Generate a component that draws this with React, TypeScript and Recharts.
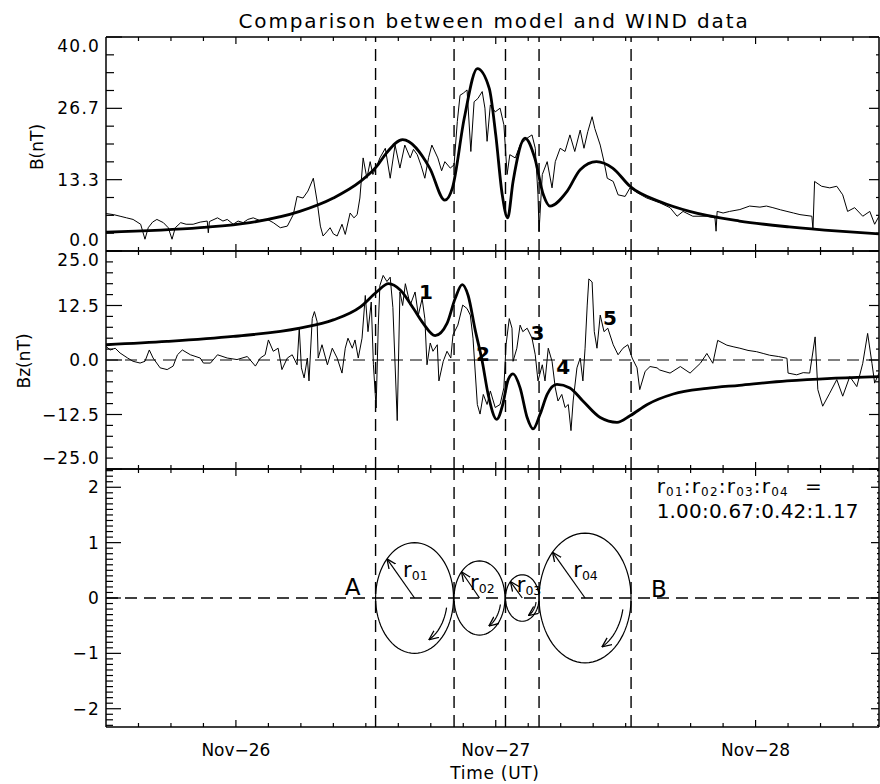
import React from "react";
import { LineChart, Line, XAxis, YAxis, ReferenceLine, ReferenceDot } from "recharts";

const FONT = "DejaVu Sans";

// time in hours after Nov-26 00:00 UT
const timeDomain = [-12, 59.4];
const hourTicks = [-9, -6, -3, 0, 3, 6, 9, 12, 15, 18, 21, 24, 27, 30, 33, 36, 39, 42, 45, 48, 51, 54, 57];
const dayTicks = [0, 24, 48];
const dayLabels = ["Nov−26", "Nov−27", "Nov−28"];

// boundaries of the rope sections (dashed lines)
const boundaryHours = [12.9, 20.15, 24.9, 28.0, 36.5];

// |B| observed by WIND, [hour, nT]
const bObserved = [
  [-12.0, 7.0], [-11.3, 6.8], [-10.7, 6.5], [-10.1, 6.2], [-9.5, 5.9], [-8.8, 5.0], [-8.4, 2.2],
  [-8.1, 4.35], [-7.7, 5.4], [-7.3, 5.9], [-6.7, 5.3], [-6.25, 4.35], [-5.9, 2.2], [-5.6, 4.35],
  [-5.1, 5.3], [-4.6, 5.0], [-3.95, 5.0], [-3.3, 5.4], [-2.65, 5.6], [-2.55, 3.4], [-2.45, 5.5],
  [-1.7, 6.2], [-1.2, 5.6], [-0.8, 5.9], [-0.25, 5.0], [0.2, 5.6], [0.67, 5.3], [1.1, 5.9],
  [1.6, 6.2], [2.2, 5.7], [2.9, 5.9], [3.45, 5.3], [4.1, 4.35], [4.75, 4.65], [5.3, 6.8],
  [5.65, 10.2], [6.2, 9.9], [6.65, 11.2], [7.15, 13.6], [7.5, 9.3], [7.8, 4.65], [8.05, 2.8],
  [8.4, 3.6], [8.7, 4.35], [9.0, 3.2], [9.35, 2.8], [9.8, 5.0], [10.1, 3.1], [10.55, 7.1],
  [10.9, 6.2], [11.2, 6.8], [11.45, 9.9], [11.75, 17.4], [12.1, 13.6], [12.4, 16.7], [12.65, 14.3],
  [13.05, 16.1], [13.3, 17.4], [13.8, 19.2], [14.25, 13.6], [14.7, 19.8], [15.15, 15.5], [15.6, 19.8],
  [16.1, 17.4], [16.4, 19.0], [16.75, 18.0], [17.1, 16.0], [17.45, 13.6], [17.8, 17.5], [18.1, 19.8],
  [18.65, 17.4], [19.0, 15.0], [19.3, 16.7], [19.8, 15.5], [20.15, 16.1], [20.45, 24.2], [20.7, 29.1],
  [21.0, 29.5], [21.35, 30.1], [21.7, 18.6], [22.0, 27.9], [22.35, 28.5], [22.75, 29.8], [23.0, 26.7],
  [23.2, 20.5], [23.5, 27.3], [23.95, 26.0], [24.4, 26.7], [24.75, 23.6], [25.05, 14.3], [25.3, 18.0],
  [25.8, 17.4], [26.25, 19.8], [26.9, 21.1], [27.35, 21.7], [27.65, 19.2], [27.9, 10.5], [28.0, 3.7],
  [28.3, 14.3], [28.75, 16.7], [29.2, 11.8], [29.5, 16.7], [29.95, 19.2], [30.4, 18.6], [30.85, 21.7],
  [31.3, 18.6], [31.8, 22.6], [32.15, 19.2], [32.5, 22.3], [32.9, 25.1], [33.15, 22.9], [33.65, 19.8],
  [34.0, 16.7], [34.3, 13.6], [34.85, 13.0], [35.3, 10.5], [35.95, 10.2], [36.4, 11.8], [37.05, 10.9],
  [37.95, 9.9], [39.15, 9.0], [40.1, 8.1], [40.75, 6.5], [41.3, 7.4], [42.2, 6.5], [43.5, 6.5],
  [44.25, 6.2], [44.35, 3.7], [44.45, 7.4], [45.0, 7.1], [45.6, 7.4], [46.55, 7.75], [47.45, 8.4],
  [48.4, 8.2], [49.0, 8.4], [49.6, 8.1], [50.3, 7.7], [50.9, 7.4], [51.5, 7.1], [52.1, 6.8],
  [53.2, 6.5], [53.3, 4.0], [53.45, 13.0], [54.1, 12.1], [54.85, 11.8], [55.5, 12.1], [56.05, 10.5],
  [56.5, 7.4], [57.15, 8.1], [57.9, 6.5], [58.55, 7.4], [59.0, 5.0], [59.4, 6.5],
];

// |B| from the model, [hour, nT]
const bModel = [
  [-12.0, 3.5], [-3.3, 4.35], [1.3, 5.3], [5.9, 7.4], [9.0, 9.9], [11.5, 13.0], [13.0, 15.8],
  [13.9, 18.3], [15.4, 20.8], [17.9, 15.5], [19.3, 9.5], [20.0, 11.8], [21.1, 24.9], [22.3, 34.1],
  [23.4, 30.4], [24.0, 21.7], [24.6, 10.5], [25.1, 6.2], [25.6, 13.0], [26.7, 21.1], [27.6, 17.4],
  [28.4, 10.5], [29.0, 8.4], [30.6, 11.2], [31.8, 15.2], [33.3, 16.7], [34.8, 15.5], [36.4, 12.1],
  [39.2, 9.2], [41.9, 7.4], [46.5, 5.6], [51.1, 4.5], [55.7, 3.7], [59.4, 3.2],
];

// Bz observed, [hour, nT]
const bzObserved = [
  [-12.0, 3.1], [-11.6, 2.3], [-11.15, 2.7], [-10.7, 1.6], [-10.0, 0.45], [-9.5, -0.3], [-8.85, -0.7],
  [-8.4, -0.3], [-8.0, 2.3], [-7.65, 0.45], [-7.0, -1.8], [-6.35, -2.2], [-5.8, -1.4], [-5.4, 1.2],
  [-4.95, 2.3], [-4.2, 1.2], [-3.3, 0.45], [-3.0, -0.7], [-2.35, -0.7], [-1.7, 1.2], [-0.8, 0.45],
  [0.1, 0.1], [1.05, 0.8], [1.8, -1.4], [2.25, 0.45], [2.7, 1.2], [3.0, 4.6], [3.45, 2.0],
  [3.9, 2.7], [4.25, -2.2], [4.75, 0.45], [5.2, 1.2], [5.65, -1.1], [5.85, 7.3], [6.05, -1.8],
  [6.3, -4.1], [6.6, 0.45], [6.75, -4.8], [7.05, 9.5], [7.25, 11.1], [7.5, 8.8], [7.6, 0.45],
  [7.95, 3.5], [8.45, -1.1], [8.9, 2.7], [9.35, 0.45], [9.8, -3.0], [10.1, 2.7], [10.35, 5.0],
  [10.75, 2.7], [11.0, 4.6], [11.3, 0.45], [11.65, 5.0], [11.95, 14.8], [12.2, 6.5], [12.5, 13.3],
  [12.7, -1.1], [12.95, -11.0], [13.15, 8.0], [13.3, 17.1], [13.6, 19.4], [13.95, 18.0], [14.25, 19.0],
  [14.5, 12.0], [14.9, -13.9], [15.15, 15.6], [15.4, 12.5], [15.65, 17.5], [16.1, 12.6], [16.55, 15.6],
  [16.85, 10.3], [17.2, 14.1], [17.45, 9.5], [17.65, -1.1], [17.95, 3.9], [18.2, 2.0], [18.6, 3.5],
  [18.75, -4.8], [19.15, -0.3], [19.5, 2.0], [19.85, 0.45], [20.05, 5.75], [20.5, 8.0], [20.95, 12.6],
  [21.35, 11.8], [21.65, 10.3], [21.9, 5.0], [22.3, -10.2], [22.55, -12.4], [22.85, -7.9], [23.2, -10.2],
  [23.5, -7.1], [23.95, -10.9], [24.4, -10.2], [24.75, -6.4], [24.95, 3.5], [25.25, 9.5], [25.5, 7.3],
  [25.6, -0.3], [25.95, 2.7], [26.25, 8.0], [26.5, 6.5], [26.9, 7.3], [27.35, 5.0], [27.65, 1.2],
  [27.9, -4.8], [28.3, -1.1], [28.55, -4.8], [28.85, 2.7], [29.2, -0.3], [29.5, -6.4], [29.75, -9.4],
  [30.1, -7.9], [30.4, -10.9], [30.7, -10.2], [30.95, -16.2], [31.15, -9.4], [31.5, -1.8], [31.8, 0.45],
  [32.05, -4.8], [32.25, 2.7], [32.45, 12.6], [32.6, 18.6], [32.9, 17.9], [33.1, 6.5], [33.35, 2.7],
  [33.65, 10.3], [34.0, 6.5], [34.35, 7.3], [34.85, 3.5], [35.3, 1.2], [35.75, 2.7], [36.2, 3.5],
  [36.6, 0.45], [37.05, -1.8], [37.3, -6.8], [37.8, -2.6], [38.25, -1.5], [38.9, -1.8], [39.15, -2.3],
  [40.1, -3.0], [41.05, -1.5], [41.95, -3.0], [42.9, -0.75], [43.5, 1.5], [44.05, -0.75], [44.5, 4.5],
  [45.35, 3.4], [46.0, 3.0], [46.55, 2.7], [47.3, 2.2], [48.1, 1.9], [48.7, 1.5], [49.3, 1.1],
  [50.1, 0.8], [50.9, 0.4], [51.0, -3.0], [51.8, -3.4], [52.4, -2.9], [53.0, -3.0], [53.5, 5.3],
  [53.75, -6.8], [54.2, -10.6], [54.85, -7.6], [55.5, -4.5], [56.05, -8.3], [56.7, -3.8], [57.35, -6.1],
  [57.9, -0.75], [58.35, 6.1], [58.75, -0.75], [59.0, -5.3], [59.4, -3.0],
];

// Bz from the model, [hour, nT]
const bzModel = [
  [-12.0, 3.5], [-6.35, 4.25], [-0.25, 5.4], [5.9, 7.3], [9.0, 9.2], [11.5, 12.2], [13.0, 15.6],
  [14.1, 17.5], [15.2, 16.0], [16.4, 11.8], [17.3, 8.4], [18.4, 5.6], [19.5, 8.4], [20.25, 14.1],
  [20.9, 17.3], [21.45, 14.8], [22.1, 6.9], [22.75, -0.3], [23.3, -7.9], [24.1, -13.6], [24.65, -10.2],
  [25.15, -4.5], [25.6, -3.2], [26.25, -6.4], [26.9, -13.2], [27.45, -15.8], [28.1, -12.4], [28.75, -7.9],
  [29.65, -5.6], [30.85, -6.4], [32.05, -9.4], [33.65, -13.2], [35.2, -14.3], [36.4, -12.8], [38.0, -10.2],
  [40.4, -7.8], [43.5, -6.5], [46.5, -5.8], [50.9, -4.8], [55.0, -4.2], [59.4, -3.8],
];

// rope cross sections: centre (hour), half width (hours), radius (relative)
const ropeCenter = [16.5, 22.5, 26.45, 32.25];
const ropeHalfWidth = [3.6, 2.35, 1.55, 4.25];
const ropeRadius = [1.0, 0.67, 0.42, 1.17];
const ropeNames = ["01", "02", "03", "04"];
const ropeLabelHour = [15.44, 21.63, 25.94, 31.16];
const ropeLabelValue = [0.38, 0.14, 0.11, 0.38];

// numbered features in the Bz panel
const featureNames = ["1", "2", "3", "4", "5"];
const featureHour = [17.56, 22.83, 27.86, 30.24, 34.55];
const featureBz = [14.1, -0.23, 4.6, -3.3, 8.0];

// value axes
const bTicks = Array.from({ length: 13 }, (_, i) => (i * 10) / 3);
const bMajors = [0, 40 / 3, 80 / 3, 40];
const bLabels = ["0.0", "13.3", "26.7", "40.0"];
const bzTicks = Array.from({ length: 21 }, (_, i) => -25 + i * 2.5);
const bzMajors = [-25, -12.5, 0, 12.5, 25];
const bzLabels = ["−25.0", "−12.5", "0.0", "12.5", "25.0"];
const rTicks = Array.from({ length: 47 }, (_, i) => (i - 23) / 10);
const rMajors = [-2, -1, 0, 1, 2];
const rLabels = ["−2", "−1", "0", "1", "2"];

const toPoints = (rows: number[][]) => rows.map(([t, v]) => ({ t, v }));

const ellipse = (i: number) =>
  Array.from({ length: 73 }, (_, k) => {
    const a = (k * 5 * Math.PI) / 180;
    return { t: ropeCenter[i] + ropeHalfWidth[i] * Math.cos(a), v: ropeRadius[i] * Math.sin(a) };
  });
const radius = (i: number) => {
  const a = (135 * Math.PI) / 180;
  return [
    { t: ropeCenter[i], v: 0 },
    { t: ropeCenter[i] + ropeHalfWidth[i] * Math.cos(a), v: ropeRadius[i] * Math.sin(a) },
  ];
};
const turn = (i: number) =>
  Array.from({ length: 14 }, (_, k) => {
    const a = ((-12 - k * 4) * Math.PI) / 180;
    return { t: ropeCenter[i] + 0.84 * ropeHalfWidth[i] * Math.cos(a), v: 0.84 * ropeRadius[i] * Math.sin(a) };
  });

const near = (a: number, b: number) => Math.abs(a - b) < 1e-6;
const axisStyle = { stroke: "#000", strokeWidth: 1.5 };

function TimeTick(props: any) {
  const { x, y, payload, edge, withLabel } = props;
  const v = payload.value;
  const d = dayTicks.findIndex((m) => near(m, v));
  const len = d >= 0 ? 7 : 4;
  const dir = edge === "top" ? 1 : -1;
  return (
    <g>
      <line x1={x} x2={x} y1={y} y2={y + dir * len} stroke="#000" strokeWidth={1.2} />
      {withLabel && d >= 0 && (
        <text x={x} y={y + 29} textAnchor="middle" fontFamily={FONT} fontSize={17} fill="#000">
          {dayLabels[d]}
        </text>
      )}
    </g>
  );
}

function ValueTick(props: any) {
  const { x, y, payload, side, majors, labels, lo, hi, majorLen, minorLen } = props;
  const v = payload.value;
  const i = majors.findIndex((m: number) => near(m, v));
  const len = i >= 0 ? majorLen : minorLen;
  const dir = side === "left" ? 1 : -1;
  let dy = 6;
  if (near(v, hi)) dy = 15;
  if (near(v, lo)) dy = -5;
  return (
    <g>
      <line x1={x} x2={x + dir * len} y1={y} y2={y} stroke="#000" strokeWidth={1.2} />
      {side === "left" && i >= 0 && (
        <text x={x - 6} y={y + dy} textAnchor="end" fontFamily={FONT} fontSize={17} letterSpacing={1.2} fill="#000">
          {labels[i]}
        </text>
      )}
    </g>
  );
}

function timeAxes(withLabel: boolean) {
  return [
    <XAxis key="xb" dataKey="t" type="number" domain={timeDomain} allowDataOverflow ticks={hourTicks}
      interval={0} height={1} tickSize={0} tickMargin={0} tickLine={false} axisLine={axisStyle}
      tick={<TimeTick edge="bottom" withLabel={withLabel} />} />,
    <XAxis key="xt" xAxisId="top" orientation="top" dataKey="t" type="number" domain={timeDomain}
      allowDataOverflow ticks={hourTicks} interval={0} height={1} tickSize={0} tickMargin={0}
      tickLine={false} axisLine={axisStyle} tick={<TimeTick edge="top" withLabel={false} />} />,
  ];
}

function valueAxes(domain: number[], ticks: number[], majors: number[], labels: string[], len: number[]) {
  return [
    <YAxis key="yl" type="number" domain={domain} allowDataOverflow ticks={ticks} interval={0} width={40}
      tickSize={0} tickMargin={0} tickLine={false} axisLine={axisStyle}
      tick={<ValueTick side="left" majors={majors} labels={labels} lo={domain[0]} hi={domain[1]}
        majorLen={len[0]} minorLen={len[1]} />} />,
    <YAxis key="yr" yAxisId="right" orientation="right" type="number" domain={domain} allowDataOverflow
      ticks={ticks} interval={0} width={1} tickSize={0} tickMargin={0} tickLine={false} axisLine={axisStyle}
      tick={<ValueTick side="right" majors={majors} labels={labels} lo={domain[0]} hi={domain[1]}
        majorLen={len[2]} minorLen={len[3]} />} />,
  ];
}

const dashed = { stroke: "#000", strokeWidth: 1.4, strokeDasharray: "12 7" };

function boundaries() {
  return boundaryHours.map((h) => <ReferenceLine key={"b" + h} x={h} {...dashed} />);
}

function textDot(key: string, x: number, y: number, render: (cx: number, cy: number) => React.ReactNode) {
  return (
    <ReferenceDot key={key} x={x} y={y} r={1} fill="none" stroke="none" ifOverflow="visible"
      shape={(p: any) => <g>{render(p.cx, p.cy)}</g>} />
  );
}

export default function App() {
  return (
    <div style={{ position: "absolute", left: 0, top: 0, width: 880, height: 784, background: "#fff" }}>
      <svg width={0} height={0} style={{ position: "absolute" }}>
        <defs>
          <marker id="openArrow" viewBox="0 0 10 10" refX={9.5} refY={5} markerWidth={10} markerHeight={10}
            markerUnits="userSpaceOnUse" orient="auto">
            <path d="M0,0.8 L9.5,5 L0,9.2" fill="none" stroke="#000" strokeWidth={1.3} />
          </marker>
        </defs>
      </svg>

      <div style={{ position: "absolute", left: 0, top: 0 }}>
        <LineChart width={880} height={260} margin={{ top: 36, right: 0, bottom: 8, left: 66 }}>
          {timeAxes(false)}
          {valueAxes([0, 40], bTicks, bMajors, bLabels, [16, 8, 10, 3])}
          {boundaries()}
          <Line data={toPoints(bObserved)} dataKey="v" type="linear" dot={false} stroke="#000"
            strokeWidth={1} isAnimationActive={false} />
          <Line data={toPoints(bModel)} dataKey="v" type="monotone" dot={false} stroke="#000"
            strokeWidth={2.8} isAnimationActive={false} />
        </LineChart>
      </div>

      <div style={{ position: "absolute", left: 0, top: 240 }}>
        <LineChart width={880} height={240} margin={{ top: 10, right: 0, bottom: 10, left: 66 }}>
          {timeAxes(false)}
          {valueAxes([-25, 25], bzTicks, bzMajors, bzLabels, [16, 7, 10, 3])}
          {boundaries()}
          <ReferenceLine y={0} {...dashed} strokeWidth={1} />
          <Line data={toPoints(bzObserved)} dataKey="v" type="linear" dot={false} stroke="#000"
            strokeWidth={1} isAnimationActive={false} />
          <Line data={toPoints(bzModel)} dataKey="v" type="monotone" dot={false} stroke="#000"
            strokeWidth={2.8} isAnimationActive={false} />
          {featureNames.map((n, i) =>
            textDot("f" + n, featureHour[i], featureBz[i], (cx, cy) => (
              <text x={cx} y={cy} textAnchor="middle" fontFamily={FONT} fontSize={20} fontWeight="bold" fill="#000">
                {n}
              </text>
            ))
          )}
        </LineChart>
      </div>

      <div style={{ position: "absolute", left: 0, top: 460 }}>
        <LineChart width={880} height={324} margin={{ top: 8, right: 0, bottom: 56, left: 66 }}>
          {timeAxes(true)}
          {valueAxes([-2.33, 2.33], rTicks, rMajors, rLabels, [15, 7, 8, 2])}
          {boundaries()}
          <ReferenceLine y={0} {...dashed} />
          {ropeCenter.map((_, i) => (
            <Line key={"e" + i} data={ellipse(i)} dataKey="v" type="linear" dot={false} stroke="#000"
              strokeWidth={1.2} isAnimationActive={false} />
          ))}
          {ropeCenter.map((_, i) => (
            <Line key={"r" + i} data={radius(i)} dataKey="v" type="linear" dot={false} stroke="#000"
              strokeWidth={1.2} markerEnd="url(#openArrow)" isAnimationActive={false} />
          ))}
          {ropeCenter.map((_, i) => (
            <Line key={"c" + i} data={turn(i)} dataKey="v" type="linear" dot={false} stroke="#000"
              strokeWidth={1.2} markerEnd="url(#openArrow)" isAnimationActive={false} />
          ))}
          {ropeNames.map((n, i) =>
            textDot("l" + n, ropeLabelHour[i], ropeLabelValue[i], (cx, cy) => (
              <text x={cx} y={cy} fontFamily={FONT} fontSize={21} fill="#000">
                r<tspan fontSize={12.5} dy={3}>{n}</tspan>
              </text>
            ))
          )}
          {textDot("A", 10.78, 0.05, (cx, cy) => (
            <text x={cx} y={cy} textAnchor="middle" fontFamily={FONT} fontSize={23} fill="#000">A</text>
          ))}
          {textDot("B", 39.08, 0.02, (cx, cy) => (
            <text x={cx} y={cy} textAnchor="middle" fontFamily={FONT} fontSize={23} fill="#000">B</text>
          ))}
          {textDot("ratio1", 38.86, 1.89, (cx, cy) => (
            <text x={cx} y={cy} fontFamily={FONT} fontSize={20} letterSpacing={1.2} fill="#000">
              {ropeNames.map((n, i) => (
                <React.Fragment key={n}>
                  <tspan dy={i === 0 ? 0 : -3}>{i === 0 ? "r" : ":r"}</tspan>
                  <tspan fontSize={12} dy={3}>{n}</tspan>
                </React.Fragment>
              ))}
              <tspan dx={16} dy={-3}>=</tspan>
            </text>
          ))}
          {textDot("ratio2", 38.86, 1.44, (cx, cy) => (
            <text x={cx} y={cy} fontFamily={FONT} fontSize={20} letterSpacing={0.2} fill="#000">
              {ropeRadius.map((r) => r.toFixed(2)).join(":")}
            </text>
          ))}
        </LineChart>
      </div>

      <svg width={880} height={784} style={{ position: "absolute", left: 0, top: 0, pointerEvents: "none" }}>
        <text x={494} y={28} textAnchor="middle" fontFamily={FONT} fontSize={20} letterSpacing={1.9} fill="#000">
          Comparison between model and WIND data
        </text>
        <text transform="translate(43,147) rotate(-90)" textAnchor="middle" fontFamily={FONT} fontSize={17} fill="#000">
          B(nT)
        </text>
        <text transform="translate(30,361) rotate(-90)" textAnchor="middle" fontFamily={FONT} fontSize={17} fill="#000">
          Bz(nT)
        </text>
        <text x={495} y={779} textAnchor="middle" fontFamily={FONT} fontSize={17} letterSpacing={0.7} fill="#000">
          Time (UT)
        </text>
      </svg>
    </div>
  );
}
